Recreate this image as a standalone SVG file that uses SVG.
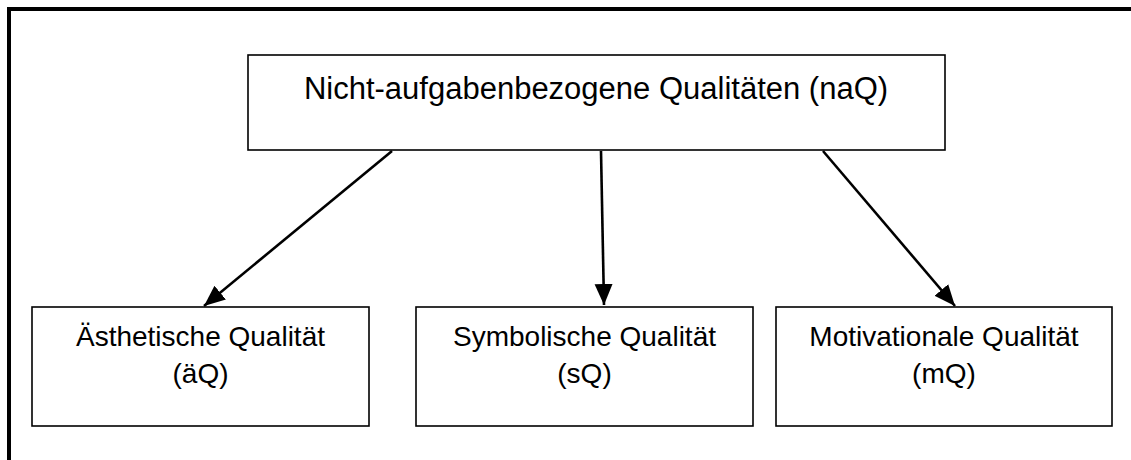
<svg xmlns="http://www.w3.org/2000/svg" width="1131" height="460" viewBox="0 0 1131 460">
  <style>
    .box { fill: #ffffff; stroke: #000000; stroke-width: 1.6; }
    .label { font-family: "Liberation Sans", Arial, sans-serif; fill: #000000; text-anchor: middle; }
    .top { font-size: 31px; }
    .sub { font-size: 28px; }
    .edge { stroke: #000000; stroke-width: 2.6; fill: none; }
    .frame { stroke: #000000; stroke-width: 4; fill: none; }
  </style>
  <defs>
    <marker id="arrow" markerUnits="userSpaceOnUse" markerWidth="24" markerHeight="20" refX="21" refY="9" orient="auto">
      <path d="M0,0 L21,9 L0,18 Z" fill="#000000"/>
    </marker>
  </defs>

  <rect width="1131" height="460" fill="#ffffff"/>

  <!-- page frame: top and left edges -->
  <path class="frame" d="M9,470 L9,9 L1140,9"/>

  <g id="naQ">
    <rect class="box" x="248" y="55" width="697" height="95"/>
    <text class="label top" x="596" y="99">Nicht-aufgabenbezogene Qualitäten (naQ)</text>
  </g>

  <g id="aeQ">
    <rect class="box" x="32" y="307" width="337" height="119"/>
    <text class="label sub" x="200.5" y="346">Ästhetische Qualität</text>
    <text class="label sub" x="200.5" y="383">(äQ)</text>
  </g>

  <g id="sQ">
    <rect class="box" x="416" y="307" width="337" height="119"/>
    <text class="label sub" x="584.5" y="346">Symbolische Qualität</text>
    <text class="label sub" x="584.5" y="383">(sQ)</text>
  </g>

  <g id="mQ">
    <rect class="box" x="776" y="307" width="336" height="119"/>
    <text class="label sub" x="944" y="346">Motivationale Qualität</text>
    <text class="label sub" x="944" y="383">(mQ)</text>
  </g>

  <g id="connectors">
    <line class="edge" x1="392" y1="151" x2="204" y2="306" marker-end="url(#arrow)"/>
    <line class="edge" x1="601" y1="151" x2="604" y2="305" marker-end="url(#arrow)"/>
    <line class="edge" x1="823" y1="151" x2="955" y2="306" marker-end="url(#arrow)"/>
  </g>
</svg>
